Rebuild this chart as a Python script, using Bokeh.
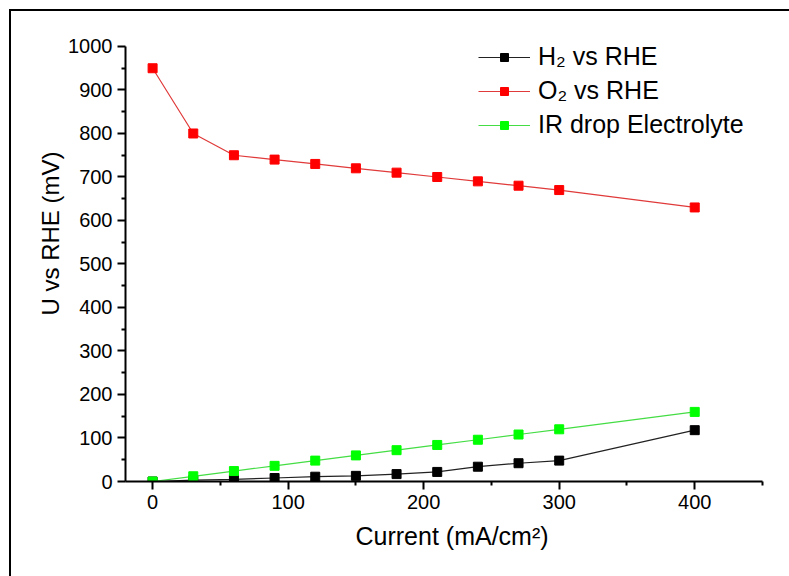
from bokeh.plotting import figure
from bokeh.models import FixedTicker, Legend, LegendItem, Range1d, Title
from bokeh.embed import file_html
from bokeh.resources import INLINE

current = [0, 30, 60, 90, 120, 150, 180, 210, 240, 270, 300, 400]
h2_vs_rhe = [0, 3, 5, 8, 11, 13, 17, 22, 34, 42, 48, 118]
o2_vs_rhe = [950, 800, 750, 740, 730, 720, 710, 700, 690, 680, 670, 630]
ir_drop = [0, 12, 24, 36, 48, 60, 72, 84, 96, 108, 120, 160]

x_major = [0, 100, 200, 300, 400]
x_minor = [50, 150, 250, 350, 450]
y_major = [0, 100, 200, 300, 400, 500, 600, 700, 800, 900, 1000]
y_minor = [50, 150, 250, 350, 450, 550, 650, 750, 850, 950]

FONT = "Liberation Sans"

p = figure(width=789, height=576, output_backend="svg", toolbar_location=None,
           x_range=Range1d(-20, 450), y_range=Range1d(0, 1050.57),
           min_border_left=125, min_border_right=27, min_border_top=24, min_border_bottom=95)
p.styles = {"box-shadow": "inset 9px 9px 0 0 white, inset 11px 11px 0 0 black"}
p.outline_line_color = None
p.grid.visible = False
p.background_fill_color = "white"
p.border_fill_alpha = 0

for ax, maj, mnr in ((p.xaxis[0], x_major, x_minor), (p.yaxis[0], y_major, y_minor)):
    ax.ticker = FixedTicker(ticks=maj, minor_ticks=mnr)
    ax.axis_line_width = 2
    ax.axis_line_color = "black"
    ax.major_tick_line_width = 2
    ax.minor_tick_line_width = 2
    ax.major_tick_out = 8
    ax.major_tick_in = 0
    ax.minor_tick_out = 4
    ax.minor_tick_in = 0
    ax.major_label_text_font = FONT
    ax.major_label_text_font_size = "20px"
    ax.major_label_text_color = "black"
    ax.major_label_standoff = 5
p.yaxis.bounds = (0, 1000)

xtitle = Title(text="Current (mA/cm²)", align="left", offset=230, standoff=17,
               text_font=FONT, text_font_size="25px", text_font_style="normal",
               text_color="black")
p.add_layout(xtitle, "below")
ytitle = Title(text="U vs RHE (mV)", align="left", offset=166, standoff=3,
               text_font=FONT, text_font_size="24px", text_font_style="normal",
               text_color="black")
p.add_layout(ytitle, "left")

series = [
    ("H₂ vs RHE", h2_vs_rhe, "#222222", "black"),
    ("O₂ vs RHE", o2_vs_rhe, "#e03a3a", "#ff0000"),
    ("IR drop Electrolyte", ir_drop, "#44dd44", "#00ff00"),
]
items = []
for label, ys, lc, mc in series:
    r1 = p.line(current, ys, line_color=lc, line_width=1.2)
    r2 = p.scatter(current, ys, marker="square", size=9, fill_color=mc, line_color=mc)
    items.append(LegendItem(label=label, renderers=[r1, r2]))

legend = Legend(items=items, location=(353, 342), border_line_color=None,
                background_fill_alpha=0, padding=0, margin=0, spacing=5,
                label_height=29, glyph_height=20, glyph_width=52, label_standoff=8,
                label_text_font=FONT, label_text_font_size="25px", label_text_color="black")
p.add_layout(legend)

open("out.html", "w").write(file_html(p, INLINE))
